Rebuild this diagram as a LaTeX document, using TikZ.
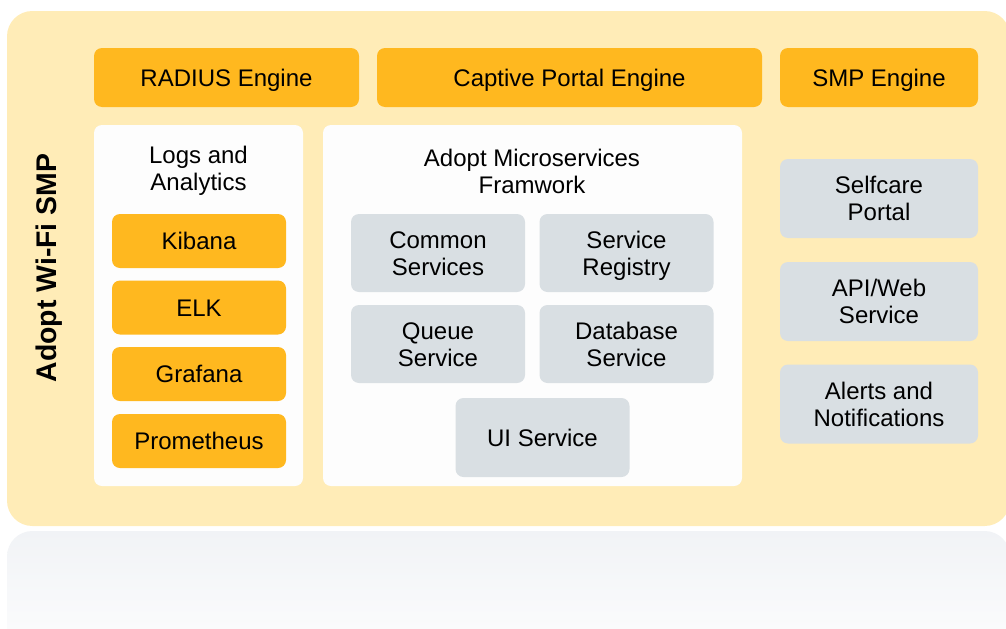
\documentclass[tikz,border=0pt]{standalone}
\usepackage{fontspec}
\setmainfont{Liberation Sans}
\usepackage{xcolor}
\usepackage{tikz}

\definecolor{engineorange}{HTML}{FFB81F}
\definecolor{smpbg}{HTML}{FFECB7}
\definecolor{svcgray}{HTML}{D9DFE3}
\definecolor{panelwhite}{HTML}{FDFDFD}
\definecolor{mirrorgray}{HTML}{F1F3F6}

\tikzset{
	engine/.style={fill=engineorange,rounded corners=6pt,inner sep=0pt,align=center,
		text height=12.9pt,text depth=0pt,font=\fontsize{18}{20.25}\selectfont},
	service/.style={engine,fill=svcgray,text height=33.15pt,minimum width=130.5pt,minimum height=58.5pt},
	tool/.style={engine,minimum width=130.5pt,minimum height=40.5pt},
	smpbox/.style={service,minimum width=148.5pt,minimum height=59.25pt},
	panel/.style={fill=panelwhite,rounded corners=6pt,inner sep=0pt,minimum height=270.75pt},
	paneltitle/.style={align=center,inner sep=0pt,font=\fontsize{18}{20.25}\selectfont}
}

\begin{document}
\begin{tikzpicture}[x=0.75pt,y=-0.75pt]
	\useasboundingbox (0,0) rectangle (1006,628);
	% background and its reflection
	\fill[smpbg,rounded corners=19pt] (7,11) rectangle (1010,526);
	\shade[top color=mirrorgray,bottom color=white,rounded corners=19pt] (7,531) rectangle (1010,680);
	\node[rotate=90,font=\fontsize{21.3}{24}\selectfont\bfseries] (smp) at (49,268) {Adopt Wi-Fi SMP};
	% engines
	\node[engine,minimum width=198.75pt,minimum height=44.25pt] (radius) at (226.5,77.5) {RADIUS Engine};
	\node[engine,minimum width=288.75pt,minimum height=44.25pt] (captive) at (569.5,77.5) {Captive Portal Engine};
	\node[engine,minimum width=148.5pt,minimum height=44.25pt] (smpengine) at (879,77.5) {SMP Engine};
	% logs and analytics
	\node[panel,minimum width=156.75pt] (logs) at (198.5,305.5) {};
	\node[paneltitle] (logstitle) at (198.5,171) {Logs and\\Analytics};
	\node[tool] (kibana) at (199,241) {Kibana};
	\node[tool] (elk) at (199,307.5) {ELK};
	\node[tool] (grafana) at (199,374) {Grafana};
	\node[tool] (prometheus) at (199,441) {Prometheus};
	% microservices framework
	\node[panel,minimum width=314.25pt] (micro) at (532.5,305.5) {};
	\node[paneltitle] (microtitle) at (532,171) {Adopt Microservices\\Framwork};
	\node[service] (common) at (438,253) {Common\\Services};
	\node[service] (registry) at (626.5,253) {Service\\Registry};
	\node[service] (queue) at (438,344) {Queue\\Service};
	\node[service] (database) at (626.5,344) {Database\\Service};
	\node[service,text height=12.9pt,minimum height=59.25pt] (ui) at (542.5,437.5) {UI Service};
	% smp side
	\node[smpbox] (selfcare) at (879,198.5) {Selfcare\\Portal};
	\node[smpbox] (api) at (879,301.5) {API/Web\\Service};
	\node[smpbox] (alerts) at (879,404) {Alerts and\\Notifications};
\end{tikzpicture}
\end{document}
